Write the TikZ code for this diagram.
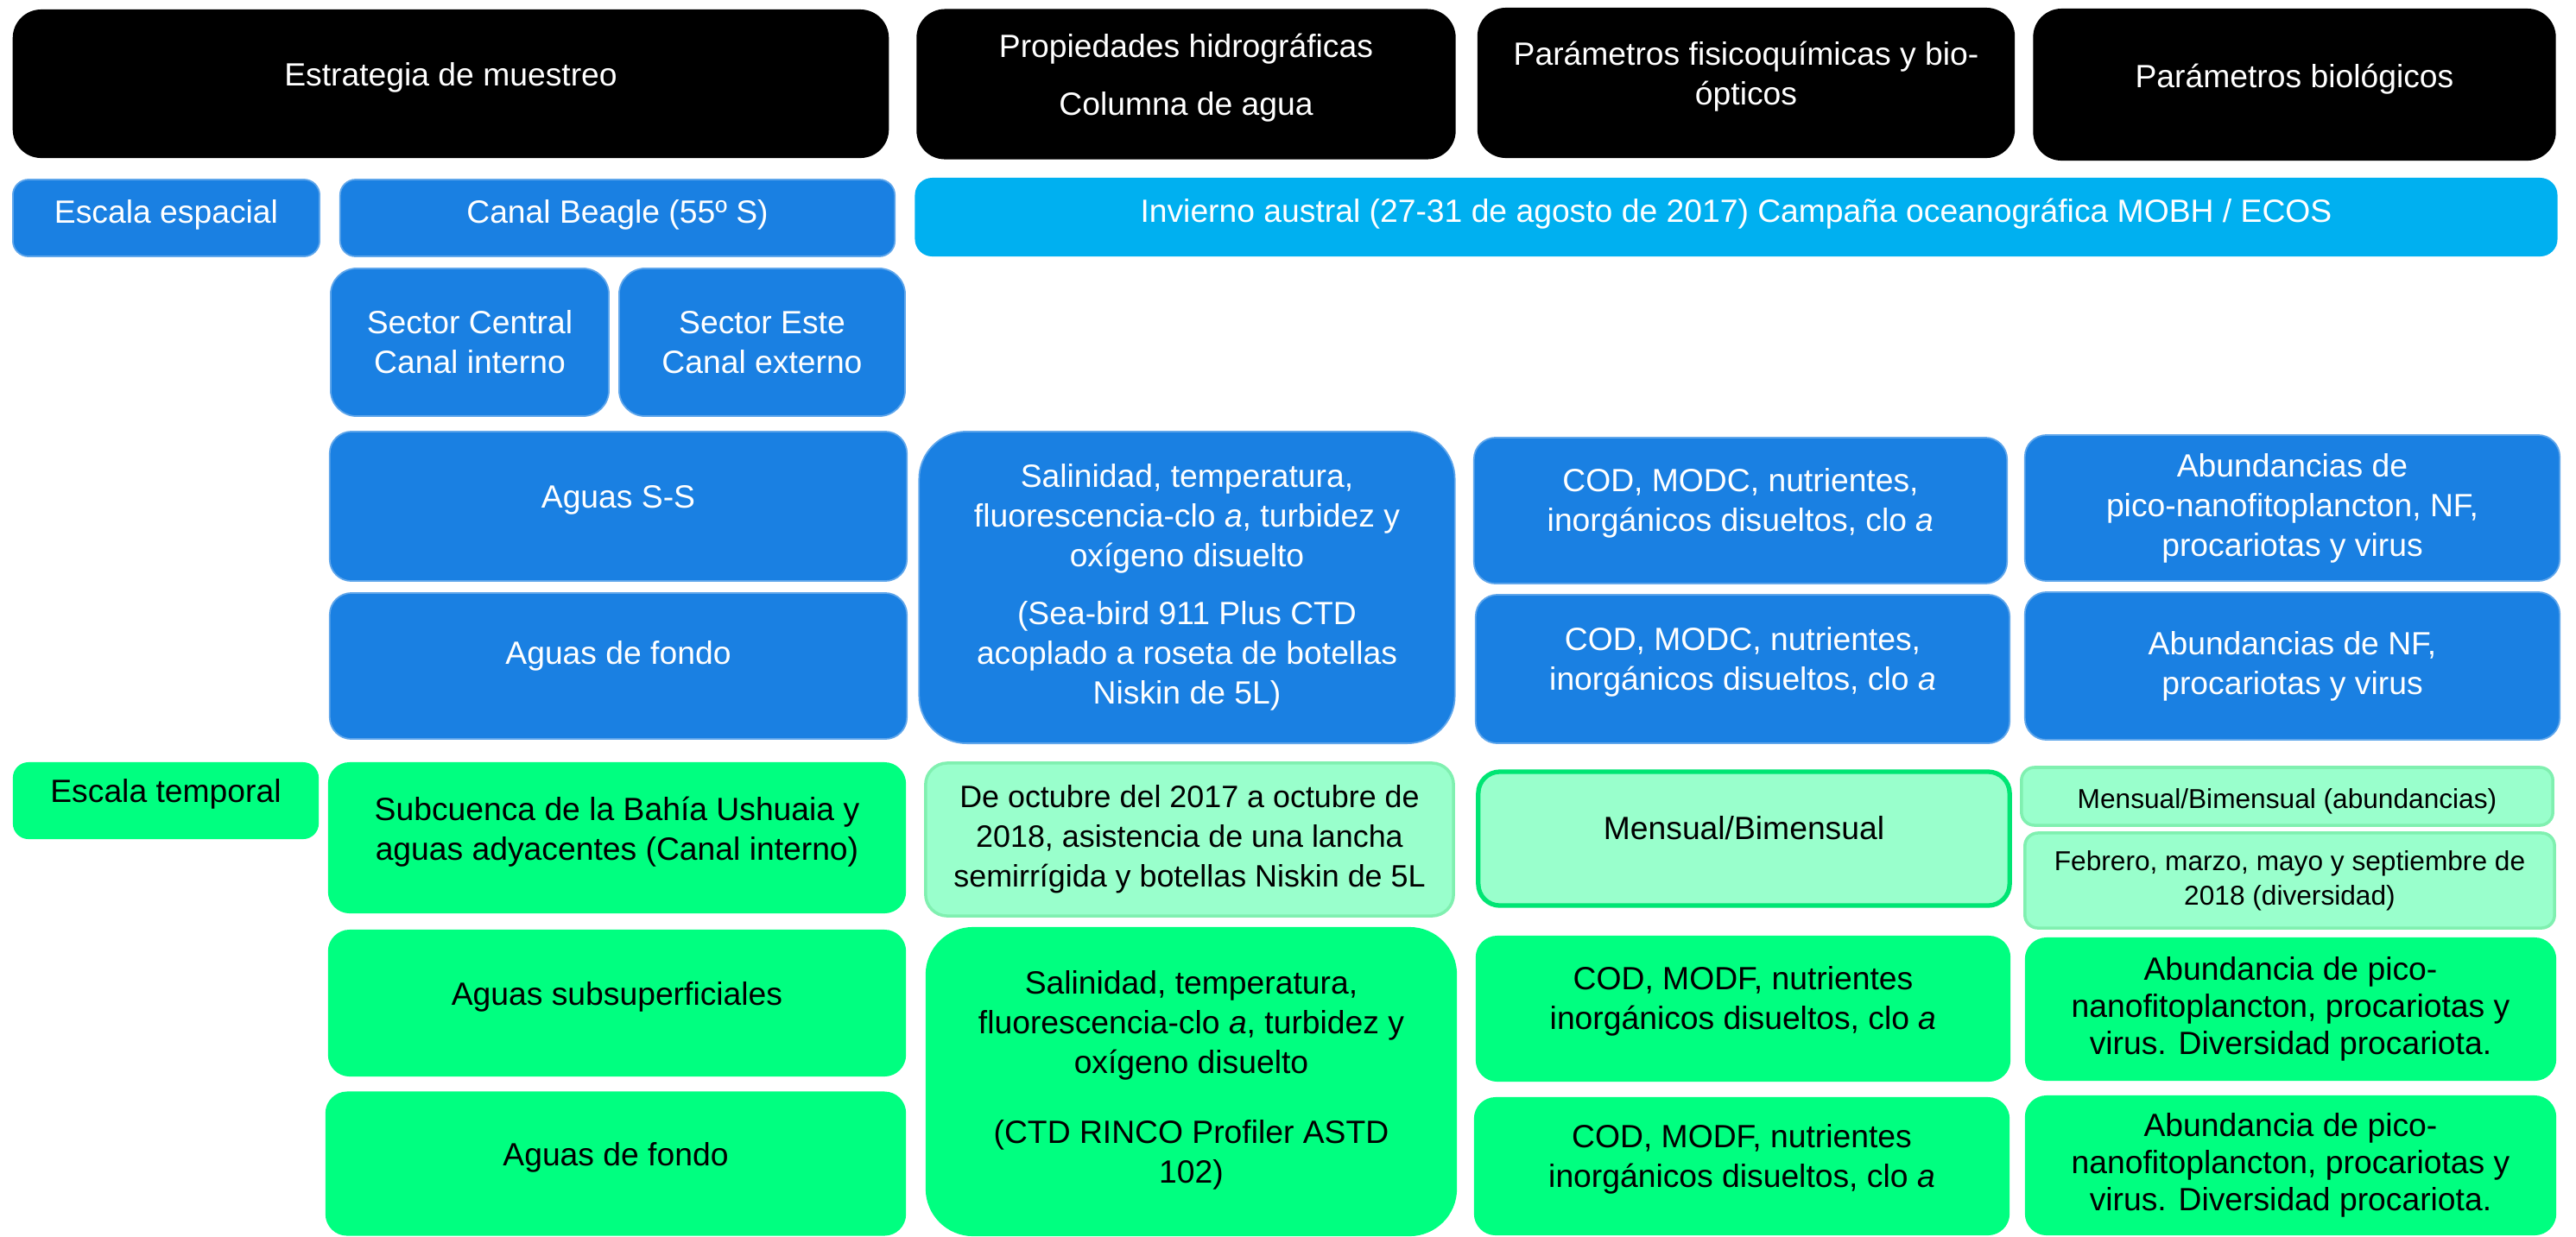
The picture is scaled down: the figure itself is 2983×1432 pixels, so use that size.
\documentclass[tikz,border=0pt]{standalone}
\usepackage{fontspec}
\setmainfont{Liberation Sans}
\usepackage{tikz}
\definecolor{seablue}{HTML}{1A80E2}
\definecolor{skyblue}{HTML}{00B0F0}
\definecolor{limegreen}{HTML}{00FF80}
\definecolor{mintgreen}{HTML}{99FFCC}
\definecolor{mintedge}{HTML}{80F0B0}
\newlength{\cellrad}
\setlength{\cellrad}{0.25cm}
\tikzset{dims/.style 2 args = {minimum width=#1cm,minimum height=#2cm}}
\tikzset{lift/.style = {execute at end node={\rule[-#1]{0pt}{0pt}}}}
\tikzset{sink/.style = {execute at begin node={\rule{0pt}{#1}}}}
\tikzset{cell/.style = {shape=rectangle,rounded corners=\cellrad,inner sep=2pt,outer sep=0pt,align=center,font=\fontsize{10.6}{13.1}\selectfont}}
\tikzset{head/.style = {cell,fill=black,text=white,rounded corners=0.33cm}}
\tikzset{sea/.style = {cell,fill=seablue,draw=seablue!70!white,line width=0.5pt,text=white}}
\tikzset{sky/.style = {cell,fill=skyblue,text=white,rounded corners=0.2cm}}
\tikzset{lime/.style = {cell,fill=limegreen,text=black}}
\tikzset{mint/.style = {cell,fill=mintgreen,draw=mintedge,line width=1pt,text=black}}
\tikzset{smalltext/.style = {font=\fontsize{9}{11.4}\selectfont,rounded corners=0.15cm}}

\begin{document}
\begin{tikzpicture}[x=0.01cm,y=-0.01cm]
                \useasboundingbox (0,0) rectangle (2983,1432);
                \node[head, lift=6pt, dims={10.14}{1.72}] (estr) at (522,97) {Estrategia de muestreo};
                \node[head, lift=6.5pt, dims={6.24}{1.74}] (prop) at (1373.5,97.5) {Propiedades hidrográficas\\[6pt]Columna de agua};
                \node[head, lift=6.5pt, dims={6.22}{1.74}] (fisq) at (2022,96) {Parámetros fisicoquímicas y bio-\\ópticos};
                \node[head, lift=6pt, dims={6.05}{1.76}] (biol) at (2657,98) {Parámetros biológicos};
                \node[sea, lift=4.4pt, dims={3.55}{0.89}, rounded corners=0.18cm] (espa) at (192.5,252.5) {Escala espacial};
                \node[sea, lift=4.4pt, dims={6.42}{0.89}, rounded corners=0.18cm] (beag) at (715,252.5) {Canal Beagle (55º S)};
                \node[sky, lift=4.4pt, dims={19.01}{0.91}] (camp) at (2010.5,251.5) {Invierno austral (27-31 de agosto de 2017) Campaña oceanográfica MOBH / ECOS};
                \node[sea, dims={3.22}{1.71}, rounded corners=0.3cm] (cent) at (544,396.5) {Sector Central\\Canal interno};
                \node[sea, dims={3.31}{1.71}, rounded corners=0.3cm] (este) at (882.5,396.5) {Sector Este\\Canal externo};
                \node[sea, lift=6.5pt, dims={6.68}{1.73}] (ssup) at (716,586.5) {Aguas S-S};
                \node[sea, lift=8.6pt, dims={6.68}{1.69}] (fond) at (716,771.5) {Aguas de fondo};
                \node[sea, dims={6.20}{3.61}, rounded corners=0.55cm] (salb) at (1374.5,680.5) {Salinidad, temperatura,\\fluorescencia-clo \textit{a}, turbidez y\\oxígeno disuelto\\[6pt](Sea-bird 911 Plus CTD\\acoplado a roseta de botellas\\Niskin de 5L)};
                \node[sea, lift=7pt, dims={6.17}{1.69}] (codb1) at (2015.5,591.5) {COD, MODC, nutrientes,\\inorgánicos disueltos, clo \textit{a}};
                \node[sea, lift=7pt, dims={6.18}{1.72}] (codb2) at (2018,775) {COD, MODC, nutrientes,\\inorgánicos disueltos, clo \textit{a}};
                \node[sea, dims={6.19}{1.69}] (abub1) at (2654.5,588.5) {Abundancias de\\pico-nanofitoplancton, NF,\\procariotas y virus};
                \node[sea, dims={6.19}{1.71}] (abub2) at (2654.5,771.5) {Abundancias de NF,\\procariotas y virus};
                \node[lime, lift=6.5pt, dims={3.54}{0.89}, rounded corners=0.18cm] (temp) at (192,927.5) {Escala temporal};
                \node[lime, lift=6.3pt, dims={6.69}{1.75}] (ushu) at (714.5,970.5) {Subcuenca de la Bahía Ushuaia y\\aguas adyacentes (Canal interno)};
                \node[mint, dims={6.11}{1.77}, font=\fontsize{10.2}{13.1}\selectfont] (lanc) at (1377.5,972.5) {De octubre del 2017 a octubre de\\2018, asistencia de una lancha\\semirrígida y botellas Niskin de 5L};
                \node[mint, lift=7pt, draw=limegreen!90!black, line width=1.5pt, dims={6.15}{1.55}] (mens) at (2019.5,971.5) {Mensual/Bimensual};
                \node[mint, smalltext, sink=10pt, dims={6.15}{0.67}] (mabu) at (2648.5,922.5) {Mensual/Bimensual (abundancias)};
                \node[mint, smalltext, dims={6.13}{1.10}] (febr) at (2651.5,1020) {Febrero, marzo, mayo y septiembre de\\2018 (diversidad)};
                \node[lime, lift=6.5pt, dims={6.69}{1.70}] (subs) at (714.5,1162) {Aguas subsuperficiales};
                \node[lime, lift=6pt, dims={6.72}{1.67}] (fonv) at (713,1348) {Aguas de fondo};
                \node[lime, lift=3pt, dims={6.15}{3.58}, rounded corners=0.55cm] (salv) at (1379.5,1253) {Salinidad, temperatura,\\fluorescencia-clo \textit{a}, turbidez y\\oxígeno disuelto\\[10pt](CTD RINCO Profiler ASTD\\102)};
                \node[lime, lift=7pt, dims={6.19}{1.69}] (codv1) at (2018.5,1168.5) {COD, MODF, nutrientes\\inorgánicos disueltos, clo \textit{a}};
                \node[lime, sink=14pt, dims={6.15}{1.66}, font=\fontsize{10.6}{12.3}\selectfont] (abuv1) at (2652.5,1169) {Abundancia de pico-\\nanofitoplancton, procariotas y\\virus. Diversidad procariota.};
                \node[lime, lift=7pt, dims={6.20}{1.60}] (codv2) at (2017,1351) {COD, MODF, nutrientes\\inorgánicos disueltos, clo \textit{a}};
                \node[lime, sink=11pt, dims={6.15}{1.62}, font=\fontsize{10.6}{12.3}\selectfont] (abuv2) at (2652.5,1350) {Abundancia de pico-\\nanofitoplancton, procariotas y\\virus. Diversidad procariota.};
            \end{tikzpicture}
\end{document}
